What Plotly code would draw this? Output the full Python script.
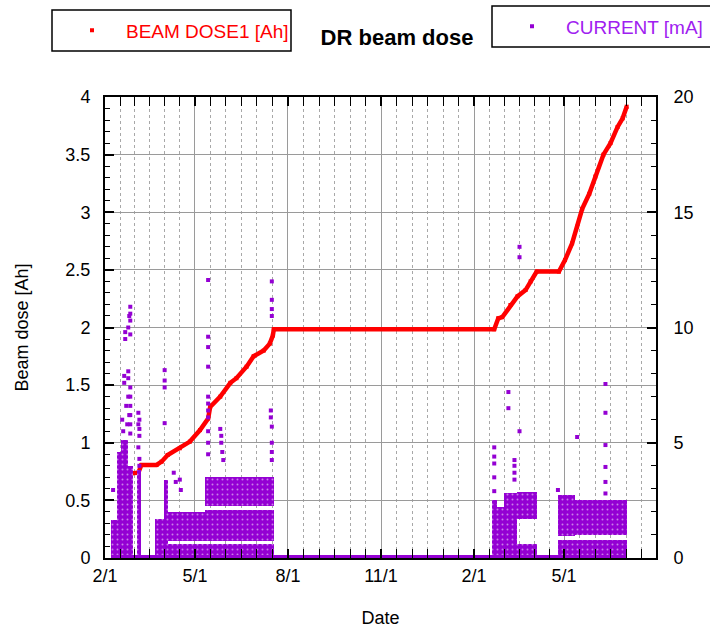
import pandas as pd
import plotly.graph_objects as go

# ---------------- data ----------------
dose_dates = ["2018-02-22", "2018-02-26", "2018-02-27", "2018-03-06", "2018-03-09", "2018-03-24",
              "2018-03-29", "2018-04-04", "2018-04-16", "2018-04-26", "2018-05-06", "2018-05-14",
              "2018-05-16", "2018-05-26", "2018-06-05", "2018-06-11", "2018-06-21", "2018-06-28",
              "2018-07-08", "2018-07-14", "2018-07-17", "2018-07-18", "2019-02-21", "2019-02-25",
              "2019-03-01", "2019-03-09", "2019-03-16", "2019-03-24", "2019-03-29", "2019-04-04",
              "2019-04-26", "2019-05-02", "2019-05-09", "2019-05-14", "2019-05-19", "2019-05-26",
              "2019-06-01", "2019-06-09", "2019-06-16", "2019-06-23", "2019-06-28", "2019-07-02"]
dose_vals = [0.55, 0.68, 0.735, 0.74, 0.807, 0.807,
             0.836, 0.894, 0.952, 1.01, 1.11, 1.21,
             1.31, 1.40, 1.52, 1.56, 1.66, 1.75,
             1.80, 1.86, 1.93, 1.985, 1.985, 2.08,
             2.09, 2.195, 2.27, 2.325, 2.40, 2.485,
             2.485, 2.585, 2.73, 2.875, 3.03, 3.16,
             3.31, 3.50, 3.60, 3.74, 3.815, 3.916]

# dense current regions (mA): start, end, low, high
band_start = ["2018-02-07", "2018-02-13", "2018-02-17", "2018-02-24", "2018-03-05",
              "2018-03-22", "2018-03-31", "2018-04-02", "2018-04-02",
              "2018-05-11", "2018-05-11", "2018-05-11",
              "2019-02-19", "2019-02-24", "2019-03-03", "2019-03-16", "2019-03-16",
              "2019-04-25", "2019-04-25", "2019-05-12", "2019-05-12"]
band_end = ["2018-02-13", "2018-02-17", "2018-02-24", "2018-03-01", "2018-03-09",
            "2018-04-02", "2018-04-04", "2018-05-11", "2018-05-11",
            "2018-07-18", "2018-07-18", "2018-07-18",
            "2019-02-24", "2019-03-03", "2019-03-16", "2019-04-04", "2019-04-04",
            "2019-05-12", "2019-05-12", "2019-07-02", "2019-07-02"]
band_low = [0, 0, 0, 0, 0,
            0, 0, 0, 0.75,
            0, 0.75, 2.25,
            0, 0, 0, 0, 1.7,
            0, 0.95, 0, 1.0]
band_high = [1.65, 4.6, 5.1, 4.0, 3.8,
             1.7, 3.4, 0.6, 2.0,
             0.62, 2.1, 3.5,
             2.5, 2.2, 2.8, 0.6, 2.85,
             0.78, 2.75, 0.78, 2.5]

# isolated current readings (mA)
spike_dates = ["2018-02-09", "2018-02-18", "2018-02-19", "2018-02-20", "2018-02-20", "2018-02-21",
               "2018-02-21", "2018-02-22", "2018-02-23", "2018-02-24", "2018-02-24", "2018-02-25",
               "2018-02-25", "2018-02-26", "2018-02-26", "2018-02-26", "2018-02-26", "2018-02-26",
               "2018-02-26", "2018-02-26", "2018-02-26", "2018-02-26", "2018-02-26", "2018-02-24",
               "2018-02-24",
               "2018-03-06", "2018-03-06", "2018-03-07", "2018-03-06", "2018-03-07", "2018-03-07",
               "2018-03-07", "2018-03-07",
               "2018-04-01", "2018-04-01", "2018-04-01", "2018-04-01",
               "2018-04-10", "2018-04-12", "2018-04-16", "2018-04-17",
               "2018-05-14", "2018-05-14", "2018-05-14", "2018-05-14", "2018-05-14", "2018-05-14",
               "2018-05-14", "2018-05-14", "2018-05-14", "2018-05-14", "2018-05-14",
               "2018-05-26", "2018-05-27", "2018-05-27", "2018-05-28", "2018-05-29",
               "2018-07-16", "2018-07-16", "2018-07-16", "2018-07-16", "2018-07-15", "2018-07-15",
               "2018-07-16", "2018-07-16", "2018-07-16", "2018-07-16",
               "2019-02-21", "2019-02-21", "2019-02-21", "2019-02-21", "2019-02-21",
               "2019-03-07", "2019-03-07", "2019-03-13", "2019-03-13", "2019-03-13", "2019-03-13",
               "2019-03-18", "2019-03-18", "2019-03-18", "2019-04-25", "2019-05-14",
               "2019-06-11", "2019-06-11", "2019-06-11", "2019-06-11", "2019-06-11", "2019-06-11"]
spike_vals = [2.95, 6.0, 5.5, 7.9, 7.6, 9.8,
              9.5, 6.6, 5.8, 10.0, 7.0, 10.5,
              6.2, 10.9, 10.6, 10.3, 9.7, 7.4,
              7.0, 6.6, 6.2, 5.8, 5.4, 8.1,
              7.8,
              6.3, 5.8, 5.3, 4.8, 4.3, 6.0,
              5.6, 4.0,
              8.15, 7.7, 7.4, 5.85,
              3.7, 3.3, 3.4, 2.95,
              12.06, 9.6, 9.15, 8.3, 7.0, 6.7,
              6.4, 6.1, 5.5, 5.0, 4.5,
              5.6, 5.3, 5.0, 4.6, 4.25,
              12.0, 11.2, 10.8, 10.5, 6.4, 6.1,
              5.7, 5.0, 4.6, 4.25,
              4.8, 4.4, 4.1, 3.5, 2.9,
              7.2, 6.5, 4.25, 4.0, 3.7, 3.4,
              13.5, 13.05, 5.5, 2.95, 5.25,
              7.55, 6.3, 4.9, 3.95, 3.3, 2.8]

# readings at zero current
zero_dates = ["2018-02-07", "2019-07-02"]
zero_vals = [0, 0]

# axis ticks
x_tick_dates = ["2018-02-01", "2018-05-01", "2018-08-01", "2018-11-01", "2019-02-01", "2019-05-01"]
x_tick_text = ["2/1", "5/1", "8/1", "11/1", "2/1", "5/1"]
x_end_date = "2019-08-01"

# ---------------- build ----------------
RED = "#ff0000"
PURPLE = "#9400d3"
FONT = "Liberation Sans, Arial, sans-serif"

bs = pd.to_datetime(band_start)
be = pd.to_datetime(band_end)
mid = bs + (be - bs) / 2
widths = [(e - s).total_seconds() * 1000 for s, e in zip(bs, be)]

major = pd.to_datetime(x_tick_dates + [x_end_date])
minor_vals = []
for a, b in zip(major[:-1], major[1:]):
    step = (b - a) / 6
    for k in range(1, 6):
        minor_vals.append((a + step * k).strftime("%Y-%m-%d %H:%M:%S"))

fig = go.Figure()

fig.add_trace(go.Bar(
    x=mid, y=[h - l for h, l in zip(band_high, band_low)], base=band_low, width=widths,
    marker=dict(color=PURPLE, line=dict(width=0),
                pattern=dict(shape=".", fgcolor="white", size=5, solidity=0.12,
                             fillmode="overlay")),
    yaxis="y2", showlegend=False, hoverinfo="skip"))

fig.add_trace(go.Scatter(
    x=zero_dates, y=zero_vals, mode="lines", line=dict(color=PURPLE, width=6),
    yaxis="y2", showlegend=False, cliponaxis=False, hoverinfo="skip"))

fig.add_trace(go.Scatter(
    x=spike_dates, y=spike_vals, mode="markers", name="CURRENT [mA]",
    marker=dict(color=PURPLE, symbol="square", size=4), yaxis="y2", legend="legend2"))

fig.add_trace(go.Scatter(
    x=dose_dates, y=dose_vals, mode="lines", line=dict(color=RED, width=4.5),
    showlegend=False, hoverinfo="skip"))

fig.add_trace(go.Scatter(
    x=dose_dates, y=dose_vals, mode="markers", name="BEAM DOSE1 [Ah]",
    marker=dict(color=RED, symbol="square", size=4), legend="legend"))

L, R, T, B = 105, 54, 97, 71
W, H = 710, 629
pw, ph = W - L - R, H - T - B


def px(x):
    return (x - L) / pw


def py(y):
    return (H - B - y) / ph


fig.update_layout(
    width=W, height=H,
    margin=dict(l=L, r=R, t=T, b=B, pad=0, autoexpand=False),
    paper_bgcolor="white", plot_bgcolor="white",
    font=dict(family=FONT, size=18, color="black"),
    barmode="overlay", bargap=0,
    title=dict(text="<b>DR beam dose</b>", x=397 / W, xanchor="center",
               y=1 - 37 / H, yanchor="middle", font=dict(size=22, color="black")),
    legend=dict(x=px(58), xanchor="left", y=py(30.5), yanchor="middle",
                bgcolor="rgba(0,0,0,0)", borderwidth=0, itemwidth=58,
                font=dict(size=19, color=RED)),
    legend2=dict(x=px(498), xanchor="left", y=py(26.5), yanchor="middle",
                 bgcolor="rgba(0,0,0,0)", borderwidth=0, itemwidth=58,
                 font=dict(size=19, color="#a020f0")),
    shapes=[
        dict(type="rect", xref="paper", yref="paper", x0=px(52), x1=px(291), y0=py(51), y1=py(10),
             line=dict(color="black", width=1.5), fillcolor="rgba(0,0,0,0)", layer="above"),
        dict(type="rect", xref="paper", yref="paper", x0=px(492), x1=px(714), y0=py(47), y1=py(6),
             line=dict(color="black", width=1.5), fillcolor="rgba(0,0,0,0)", layer="above"),
    ],
    xaxis=dict(
        type="date", range=["2018-02-01", "2019-07-31"],
        tickmode="array", tickvals=x_tick_dates, ticktext=x_tick_text,
        ticks="inside", ticklen=9, tickwidth=1.5, tickcolor="black",
        showline=True, linewidth=2, linecolor="black", mirror="allticks",
        showgrid=True, gridcolor="#9a9a9a", gridwidth=1,
        zeroline=False, ticklabelstandoff=0,
        tickfont=dict(size=18),
        minor=dict(tickmode="array", tickvals=minor_vals, ticks="inside", ticklen=6,
                   tickwidth=1.2, tickcolor="black", showgrid=True,
                   gridcolor="#a8a8a8", gridwidth=1, griddash="dot"),
        title=dict(text="Date", font=dict(size=18), standoff=27),
    ),
    yaxis=dict(
        range=[0, 4], tickmode="linear", tick0=0, dtick=0.5,
        ticks="inside", ticklen=9, tickwidth=1.5, tickcolor="black",
        showline=True, linewidth=2, linecolor="black", mirror=True,
        showgrid=True, gridcolor="#9a9a9a", gridwidth=1, zeroline=False,
        ticklabelstandoff=9, tickfont=dict(size=18),
        minor=dict(dtick=0.1, ticks="inside", ticklen=5, tickwidth=1.2,
                   tickcolor="black", showgrid=False),
        title=dict(text="Beam dose [Ah]", font=dict(size=18), standoff=32),
    ),
    yaxis2=dict(
        overlaying="y", side="right", range=[0, 20], tickmode="linear", tick0=0, dtick=5,
        ticks="inside", ticklen=9, tickwidth=1.5, tickcolor="black",
        showline=True, linewidth=2, linecolor="black",
        showgrid=False, zeroline=False, ticklabelstandoff=12, tickfont=dict(size=18),
        minor=dict(dtick=1, ticks="inside", ticklen=5, tickwidth=1.2,
                   tickcolor="black", showgrid=False),
    ),
)

fig.write_html("out.html")
